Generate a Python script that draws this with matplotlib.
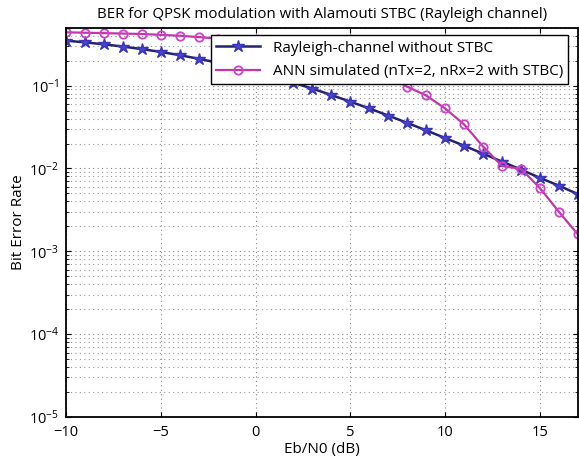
import numpy as np
import matplotlib
matplotlib.use("Agg")
import matplotlib.pyplot as plt

# ---- DATA ---- #
ebn0_db = np.arange(-10, 18)

ber_rayleigh = [0.349, 0.333, 0.315, 0.296, 0.276, 0.255, 0.233, 0.211, 0.189,
                0.167, 0.146, 0.127, 0.108, 0.092, 0.077, 0.064, 0.053, 0.0435,
                0.0355, 0.0288, 0.0233, 0.0188, 0.0151, 0.0121, 0.0097, 0.0077,
                0.0062, 0.0049]

ber_ann = [0.44, 0.435, 0.43, 0.425, 0.42, 0.41, 0.40, 0.385, 0.37, 0.35,
           0.33, 0.31, 0.285, 0.26, 0.23, 0.20, 0.165, 0.13, 0.097, 0.076,
           0.053, 0.034, 0.0184, 0.0107, 0.0099, 0.0058, 0.0030, 0.0016]

xticks = [-10, -5, 0, 5, 10, 15]

# ---- PLOT ---- #
plt.rcParams['font.family'] = ['Open Sans', 'DejaVu Sans']

fig = plt.figure(figsize=(5.79, 4.58), dpi=100)
ax = fig.add_axes([0.114, 0.0895, 0.884, 0.85])

ax.semilogy(ebn0_db, ber_rayleigh, color='#23236e', linewidth=1.8,
            marker='*', markersize=9, markerfacecolor='#4a44cc',
            markeredgecolor='#3a34b8', label='Rayleigh-channel without STBC')
ax.semilogy(ebn0_db, ber_ann, color='#c038a8', linewidth=1.6,
            marker='o', markersize=6, markerfacecolor='none',
            markeredgecolor='#d040d0', markeredgewidth=1.3,
            label='ANN simulated (nTx=2, nRx=2 with STBC)')

ax.set_xlim(-10, 17)
ax.set_ylim(1e-5, 0.5)
ax.set_xticks(xticks)

ax.grid(True, which='major', linestyle=(0, (1, 3)), color='#888888', linewidth=0.8)
ax.grid(True, which='minor', axis='y', linestyle=(0, (1, 3)), color='#999999', linewidth=0.8)
ax.tick_params(which='both', direction='in', top=True, right=True, labelsize=10.5)
ax.tick_params(axis='x', pad=6)
ax.tick_params(axis='y', pad=5)
for s in ax.spines.values():
    s.set_linewidth(1.3)

ax.set_title('BER for QPSK modulation with Alamouti STBC (Rayleigh channel)',
             fontsize=10.8, pad=7)
ax.set_xlabel('Eb/N0 (dB)', fontsize=11, labelpad=1)
ax.set_ylabel('Bit Error Rate', fontsize=11, labelpad=2)

leg = ax.legend(loc='upper right', bbox_to_anchor=(0.996, 1.0), fontsize=11,
                fancybox=False, framealpha=1, edgecolor='black',
                handlelength=2.9, borderpad=0.35, labelspacing=0.55)
leg.get_frame().set_linewidth(1.0)

plt.savefig('out.png', dpi=100)
plt.close()
